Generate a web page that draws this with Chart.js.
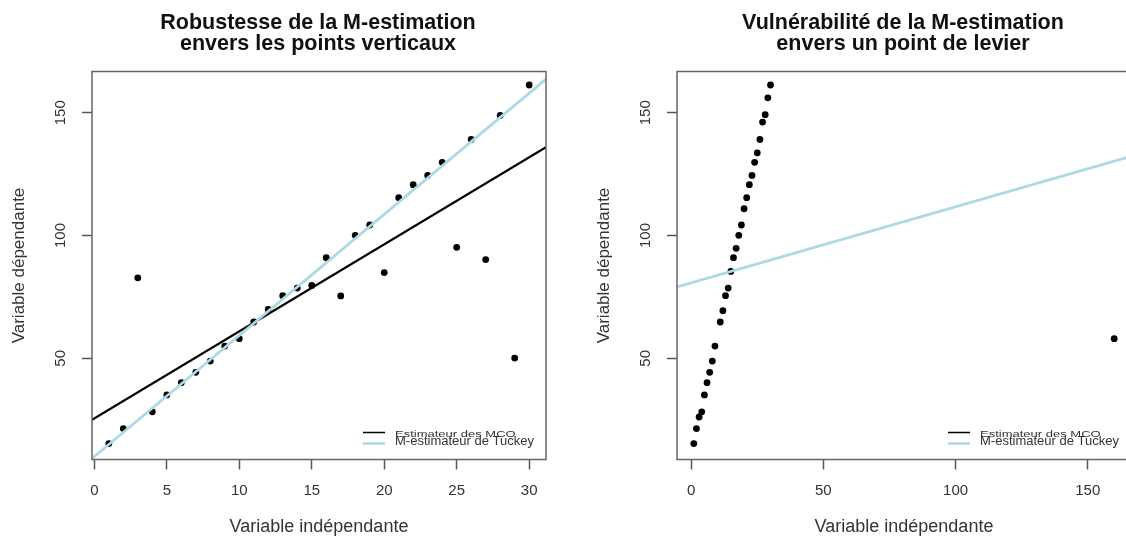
<!DOCTYPE html>
<html lang="fr">
<head>
<meta charset="utf-8">
<title>M-estimation : points verticaux et point de levier</title>
<script src="https://cdn.jsdelivr.net/npm/chart.js@4"></script>
<style>
  html, body { margin: 0; padding: 0; background: #fff; overflow: hidden; }
  #wrap { position: relative; width: 1126px; height: 538px; overflow: hidden; }
  #left { position: absolute; left: 0; top: 0; }
  #right { position: absolute; left: 563px; top: 0; }
</style>
</head>
<body>
<div id="wrap">
  <canvas id="left" width="563" height="538"></canvas>
  <canvas id="right" width="600" height="538"></canvas>
</div>
<script>
// Jeu 1 : observations avec points verticaux (x = 1..30)
const xVert = [1, 2, 3, 4, 5, 6, 7, 8, 9, 10, 11, 12, 13, 14, 15,
               16, 17, 18, 19, 20, 21, 22, 23, 24, 25, 26, 27, 28, 29, 30];
const yVert = [15.3, 21.4, 82.8, 28.2, 35.1, 40.1, 44.3, 48.9, 55.0, 58.0,
               64.8, 69.9, 75.5, 78.6, 79.7, 91.0, 75.4, 100.1, 104.3, 84.9,
               115.4, 120.7, 124.5, 129.8, 95.2, 139.1, 90.2, 148.9, 50.1, 161.3];

// Jeu 2 : mêmes données sans points verticaux, x = 10 déplacé en levier (160)
const xLev = [1, 2, 3, 4, 5, 6, 7, 8, 9, 11, 12, 13, 14, 15, 16,
              17, 18, 19, 20, 21, 22, 23, 24, 25, 26, 27, 28, 29, 30, 160];
const yLev = [15.3, 21.4, 26.1, 28.2, 35.1, 40.1, 44.3, 48.9, 55.0, 64.8,
              69.4, 75.5, 78.6, 85.4, 91.0, 94.8, 100.1, 104.3, 110.9, 115.4,
              120.7, 124.5, 129.8, 133.7, 139.1, 146.2, 149.2, 156.1, 161.3, 58.0];

// coefficients (ordonnée à l'origine, pente) des droites ajustées
const olsVert = [25.5, 3.545];
const tukeyVert = [10.0, 4.933];
const olsLev = [80.7, 0.31];
const tukeyLev = [80.7, 0.31];

const xTicksVert = [0, 5, 10, 15, 20, 25, 30];
const xTicksLev = [0, 50, 100, 150];
const yTicks = [50, 100, 150];

const xRangeVert = [-0.16, 31.16];
const xRangeLev = [-5.36, 166.36];
const yRange = [8.8, 166.8];

const FONT = '"Liberation Sans", Arial, Helvetica, sans-serif';
Chart.defaults.font.family = FONT;

function abline(coef, range) {
  return range.map(x => ({ x: x, y: coef[0] + coef[1] * x }));
}

// cadre, étiquettes y tournées, titre sur deux lignes et légende façon R
function rDecor(titleLines) {
  return {
    id: 'rDecor',
    afterDraw(chart) {
      const { ctx, chartArea: a } = chart;
      const y = chart.scales.y;
      ctx.save();

      ctx.strokeStyle = '#666';
      ctx.lineWidth = 1.5;
      ctx.strokeRect(a.left, a.top, a.right - a.left, a.bottom - a.top);

      ctx.fillStyle = '#333';
      ctx.font = '15px ' + FONT;
      ctx.textAlign = 'center';
      ctx.textBaseline = 'middle';
      y.ticks.forEach(t => {
        ctx.save();
        ctx.translate(a.left - 31, y.getPixelForValue(t.value));
        ctx.rotate(-Math.PI / 2);
        ctx.fillText(String(t.value), 0, 0);
        ctx.restore();
      });

      const cx = (a.left + a.right) / 2;
      ctx.fillStyle = '#111';
      ctx.font = 'bold 21.5px ' + FONT;
      ctx.textBaseline = 'alphabetic';
      ctx.fillText(titleLines[0], cx - 1, 28.5);
      ctx.fillText(titleLines[1], cx - 1, 49.5);

      // légende en bas à droite, sans cadre
      const ds = chart.data.datasets;
      const entries = [ds[1], ds[0]];
      const lx0 = a.right - 183, lx1 = a.right - 161, tx = a.right - 151;
      const lineY = [a.bottom - 27, a.bottom - 16];
      const textY = [a.bottom - 23, a.bottom - 14.5];
      const widths = [1.5, 2.5];
      ctx.textAlign = 'left';
      ctx.font = '13px ' + FONT;
      ctx.fillStyle = '#333';
      entries.forEach((d, i) => {
        ctx.strokeStyle = d.borderColor;
        ctx.lineWidth = widths[i];
        ctx.beginPath();
        ctx.moveTo(lx0, lineY[i]);
        ctx.lineTo(lx1, lineY[i]);
        ctx.stroke();
        ctx.save();
        ctx.translate(tx, textY[i]);
        if (i === 0) ctx.scale(1, 0.66);
        ctx.fillText(d.label, 0, 0);
        ctx.restore();
      });

      ctx.restore();
    }
  };
}

function panel(canvasId, cfg) {
  const pts = cfg.x.map((x, i) => ({ x: x, y: cfg.y[i] }));
  return new Chart(document.getElementById(canvasId), {
    type: 'scatter',
    data: {
      datasets: [
        {
          label: 'M-estimateur de Tuckey',
          data: abline(cfg.tukey, cfg.xRange),
          showLine: true,
          borderColor: '#add8e6',
          borderWidth: 2.8,
          pointRadius: 0,
          order: 0
        },
        {
          label: 'Estimateur des MCO',
          data: abline(cfg.ols, cfg.xRange),
          showLine: true,
          borderColor: '#000000',
          borderWidth: cfg.olsWidth,
          pointRadius: 0,
          order: 1
        },
        {
          label: 'Observations',
          data: pts,
          pointRadius: 3.4,
          pointBackgroundColor: '#000',
          pointBorderWidth: 0,
          order: 2
        }
      ]
    },
    options: {
      responsive: false,
      animation: false,
      devicePixelRatio: 1,
      layout: { padding: { top: 71.5, left: cfg.padLeft, right: cfg.padRight, bottom: 0 } },
      plugins: { legend: { display: false }, tooltip: { enabled: false } },
      scales: {
        x: {
          type: 'linear',
          min: cfg.xRange[0],
          max: cfg.xRange[1],
          afterBuildTicks: s => { s.ticks = cfg.xTicks.map(v => ({ value: v })); },
          afterFit: s => { s.height = 78.5; },
          border: { display: false },
          grid: { drawOnChartArea: false, drawTicks: true, tickLength: 10, tickColor: '#555', tickWidth: 1.5 },
          ticks: { font: { size: 15 }, color: '#333', padding: 12, maxRotation: 0, autoSkip: false },
          title: { display: true, text: 'Variable indépendante', font: { size: 18 }, color: '#333', padding: { top: 0, bottom: 0 } }
        },
        y: {
          type: 'linear',
          min: yRange[0],
          max: yRange[1],
          afterBuildTicks: s => { s.ticks = yTicks.map(v => ({ value: v })); },
          afterFit: s => { s.width = 92; },
          border: { display: false },
          grid: { drawOnChartArea: false, drawTicks: true, tickLength: 10, tickColor: '#555', tickWidth: 1.5 },
          ticks: { font: { size: 15 }, color: 'rgba(0,0,0,0)' },
          title: { display: true, text: 'Variable dépendante', font: { size: 17 }, color: '#333', padding: { top: 9, bottom: 0 } }
        }
      }
    },
    plugins: [rDecor(cfg.title)]
  });
}

panel('left', {
  x: xVert, y: yVert, ols: olsVert, tukey: tukeyVert,
  xRange: xRangeVert, xTicks: xTicksVert, olsWidth: 2.2,
  padLeft: 0, padRight: 17,
  title: ['Robustesse de la M-estimation', 'envers les points verticaux']
});

// ici la droite des MCO est confondue avec celle de Tukey, qui la recouvre
panel('right', {
  x: xLev, y: yLev, ols: olsLev, tukey: tukeyLev,
  xRange: xRangeLev, xTicks: xTicksLev, olsWidth: 1,
  padLeft: 22, padRight: 32,
  title: ['Vulnérabilité de la M-estimation', 'envers un point de levier']
});
</script>
</body>
</html>
